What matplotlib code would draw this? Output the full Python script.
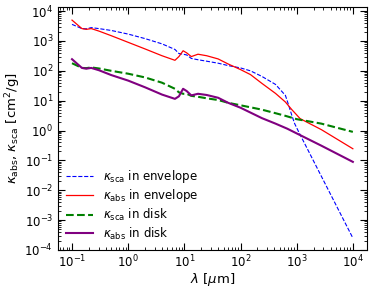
import matplotlib
matplotlib.use("Agg")
import matplotlib.pyplot as plt
from matplotlib.ticker import LogLocator, NullFormatter

# wavelengths [um] and opacities [cm^2/g]
lam_env_abs = [0.1, 0.15, 0.18, 0.22, 0.3, 0.5, 1, 2, 4, 6.8, 8, 9.5, 11, 13.3, 17.5,
               25, 40, 60, 100, 150, 240, 420, 630, 820, 1150, 2750, 10000]
kap_env_abs = [5000, 2600, 2450, 2600, 2150, 1500, 900, 540, 320, 225, 300, 470, 400, 300, 360,
               320, 250, 170, 110, 75, 38, 17.5, 9, 5, 2.5, 1.07, 0.245]

lam_env_sca = [0.1, 0.15, 0.18, 0.22, 0.3, 0.5, 1, 2, 4, 6.8, 8, 9.5, 11, 13.3, 17.5,
               25, 40, 60, 100, 150, 240, 420, 630, 720, 820, 920, 1070, 10000]
kap_env_sca = [3600, 2600, 2550, 2800, 2600, 2250, 1700, 1200, 800, 520, 380, 360, 340, 260, 235,
               210, 180, 150, 125, 100, 65, 35, 15, 7, 3.2, 1.7, 0.95, 2.5e-4]

lam_disk_sca = [0.1, 0.15, 0.18, 0.22, 0.3, 0.5, 1, 2, 4, 6.8, 8, 9.5, 11, 13.3, 17.5,
                25, 40, 60, 100, 150, 240, 420, 630, 1000, 2750, 10000]
kap_disk_sca = [180, 125, 123, 130, 120, 100, 80, 60, 40, 25, 19, 17, 17, 14.5, 13.5,
                12, 10.5, 8.5, 7, 6, 5, 3.8, 3.1, 2.4, 1.7, 0.9]

lam_disk_abs = [0.1, 0.15, 0.18, 0.22, 0.3, 0.5, 1, 2, 4, 6.8, 8, 9.5, 11, 13.3, 17.5,
                25, 40, 60, 100, 150, 240, 420, 680, 1000, 2750, 10000]
kap_disk_abs = [245, 125, 118, 125, 105, 72, 47, 28, 16, 11.5, 14, 25, 21, 15, 17,
                15.5, 12.5, 8.5, 5.8, 4.0, 2.6, 1.7, 1.15, 0.8, 0.31, 0.089]

labels = [r'$\kappa_{\rm sca}$ in envelope', r'$\kappa_{\rm abs}$ in envelope',
          r'$\kappa_{\rm sca}$ in disk', r'$\kappa_{\rm abs}$ in disk']

fig = plt.figure(figsize=(3.74, 2.94), dpi=100)
ax = fig.add_axes([0.155, 0.150, 0.826, 0.827])

ax.plot(lam_env_sca, kap_env_sca, color='blue', ls='--', lw=0.8, label=labels[0])
ax.plot(lam_env_abs, kap_env_abs, color='red', ls='-', lw=0.9, label=labels[1])
ax.plot(lam_disk_sca, kap_disk_sca, color='green', ls='--', lw=1.5, label=labels[2])
ax.plot(lam_disk_abs, kap_disk_abs, color='purple', ls='-', lw=1.5, label=labels[3])

ax.set_xscale('log')
ax.set_yscale('log')
ax.set_ylim(1e-4, 1.4e4)
ax.yaxis.set_major_locator(LogLocator(base=10, numticks=20))
ax.yaxis.set_minor_locator(LogLocator(base=10, subs=range(2, 10), numticks=20))
ax.yaxis.set_minor_formatter(NullFormatter())

ax.tick_params(which='both', direction='in', top=True, right=True, labelsize=8.5)
ax.tick_params(which='major', length=5, width=0.8)
ax.tick_params(which='minor', length=2.5, width=0.6)
ax.tick_params(axis='x', which='major', pad=2.5)

ax.set_xlabel(r'$\lambda$ [$\mu$m]', fontsize=9.5, labelpad=1)
ax.set_ylabel(r'$\kappa_{\rm abs}$, $\kappa_{\rm sca}$ [cm$^2$/g]', fontsize=9.5, labelpad=1)

ax.legend(loc='lower left', frameon=False, fontsize=8.5, handlelength=2.3,
          handletextpad=0.8, labelspacing=0.22, borderaxespad=0.3,
          bbox_to_anchor=(0.0, 0.0))

fig.savefig('out.png', dpi=100)
